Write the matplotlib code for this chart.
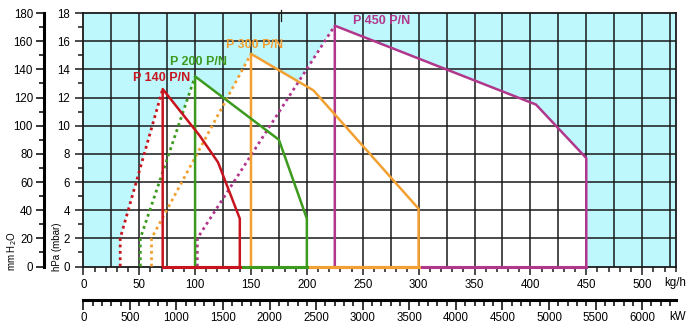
import matplotlib
matplotlib.use("Agg")
import matplotlib.pyplot as plt
from matplotlib.ticker import MultipleLocator

plt.rcParams['font.family'] = ['Liberation Sans', 'DejaVu Sans']

# Burner working fields: pressure (hPa) vs. flow (kg/h)
burners = ["P 140 P/N", "P 200 P/N", "P 300 P/N", "P 450 P/N"]
colors = ["#c8141e", "#3c9a1e", "#f2a032", "#b0378c"]

# dotted ignition branch (left boundary)
dot_x = [[33, 33, 71], [51, 51, 100], [61, 61, 150], [102, 102, 225]]
dot_y = [[0, 2, 12.6], [0, 2, 13.5], [0, 2, 15.1], [0, 2, 17.1]]

# solid working curve: vertical from the base, top curve, right edge
cur_x = [[71, 71, 104, 120.5, 140, 140],
         [100, 100, 175, 200, 200],
         [150, 150, 206, 300, 300],
         [225, 225, 405, 450, 450]]
cur_y = [[0, 12.6, 9.3, 7.4, 3.4, 0],
         [0, 13.5, 9.0, 3.4, 0],
         [0, 15.1, 12.5, 4.1, 0],
         [0, 17.1, 11.5, 7.7, 0]]

label_x = [44.5, 77.5, 127.5, 241]
label_y = [13.4, 14.5, 15.7, 17.4]

KW_PER_KGH = 12.0
MM_PER_HPA = 10.0

fig = plt.figure(figsize=(6.95, 3.30), dpi=100)
ax = fig.add_axes([0.1199, 0.1924, 0.8523, 0.7682])
ax.set_facecolor("#bff8fc")
ax.set_xlim(0, 530)
ax.set_ylim(0, 18)

# white working areas
for dx, dy, cx, cy in zip(dot_x, dot_y, cur_x, cur_y):
    px = dx[:-1] + cx[1:]
    py = dy[:-1] + cy[1:]
    ax.fill(px, py, color="white", zorder=1, lw=0)

ax.xaxis.set_major_locator(MultipleLocator(50))
ax.xaxis.set_minor_locator(MultipleLocator(10))
ax.yaxis.set_major_locator(MultipleLocator(2))
ax.yaxis.set_minor_locator(MultipleLocator(1))

# grid every 25 kg/h and 2 hPa
for gx in range(25, 530, 25):
    ax.axvline(gx, color="#1a1a1a", lw=1.1, zorder=2)
for gy in range(2, 18, 2):
    ax.axhline(gy, color="#1a1a1a", lw=1.1, zorder=2)

# draw largest first so smaller burners sit on top
for i in reversed(range(len(burners))):
    ax.plot(dot_x[i], dot_y[i], color=colors[i], lw=2,
            linestyle=(0, (1, 1.3)), zorder=3, solid_capstyle="butt")
    ax.plot(cur_x[i], cur_y[i], color=colors[i], lw=1.8, zorder=4)
    ax.plot([cur_x[i][0], cur_x[i][-1]], [0, 0], color=colors[i], lw=2.2,
            zorder=4, clip_on=False)
    ax.text(label_x[i], label_y[i], burners[i], color=colors[i],
            fontsize=9, fontweight="bold", va="center", ha="left", zorder=5)

# small stray tick above the frame
ax.plot([176.7, 176.7], [17.4, 18.2], color="#1a1a1a", lw=0.9,
        clip_on=False, zorder=5)

for s in ax.spines.values():
    s.set_color("#1a1a1a")
    s.set_linewidth(1.3)

ax.tick_params(axis="both", which="major", direction="out", length=6,
               width=1.1, labelsize=8.3, color="#1a1a1a")
ax.tick_params(axis="both", which="minor", direction="out", length=3.5,
               width=1.1, color="#1a1a1a")
ax.tick_params(axis="x", pad=3)
ax.set_xticks(range(0, 501, 50))

# secondary kW scale below
sec = ax.secondary_xaxis(-0.132, functions=(lambda x: x * KW_PER_KGH,
                                             lambda x: x / KW_PER_KGH))
sec.xaxis.set_major_locator(MultipleLocator(500))
sec.xaxis.set_minor_locator(MultipleLocator(100))
sec.set_xticks(range(0, 6001, 500))
sec.spines["bottom"].set_linewidth(2.2)
sec.tick_params(which="major", length=7, width=1.1, labelsize=8.3, pad=2)
sec.tick_params(which="minor", length=4.5, width=1.1)

# secondary mm H2O scale to the left
sey = ax.secondary_yaxis(-0.0663, functions=(lambda y: y * MM_PER_HPA,
                                              lambda y: y / MM_PER_HPA))
sey.yaxis.set_major_locator(MultipleLocator(20))
sey.yaxis.set_minor_locator(MultipleLocator(10))
sey.spines["left"].set_linewidth(2.2)
sey.tick_params(which="major", length=6, width=1.1, labelsize=8.3, pad=2)
sey.tick_params(which="minor", length=3.5, width=1.1)

fig.text(0.956, 0.142, "kg/h", fontsize=8.3, ha="left", va="center")
fig.text(0.963, 0.04, "kW", fontsize=8.3, ha="left", va="center")
fig.text(0.082, 0.18, "hPa (mbar)", fontsize=7, rotation=90,
         ha="center", va="bottom")
fig.text(0.018, 0.18, "mm H$_2$O", fontsize=7, rotation=90,
         ha="center", va="bottom")

fig.savefig("out.png", dpi=100)
